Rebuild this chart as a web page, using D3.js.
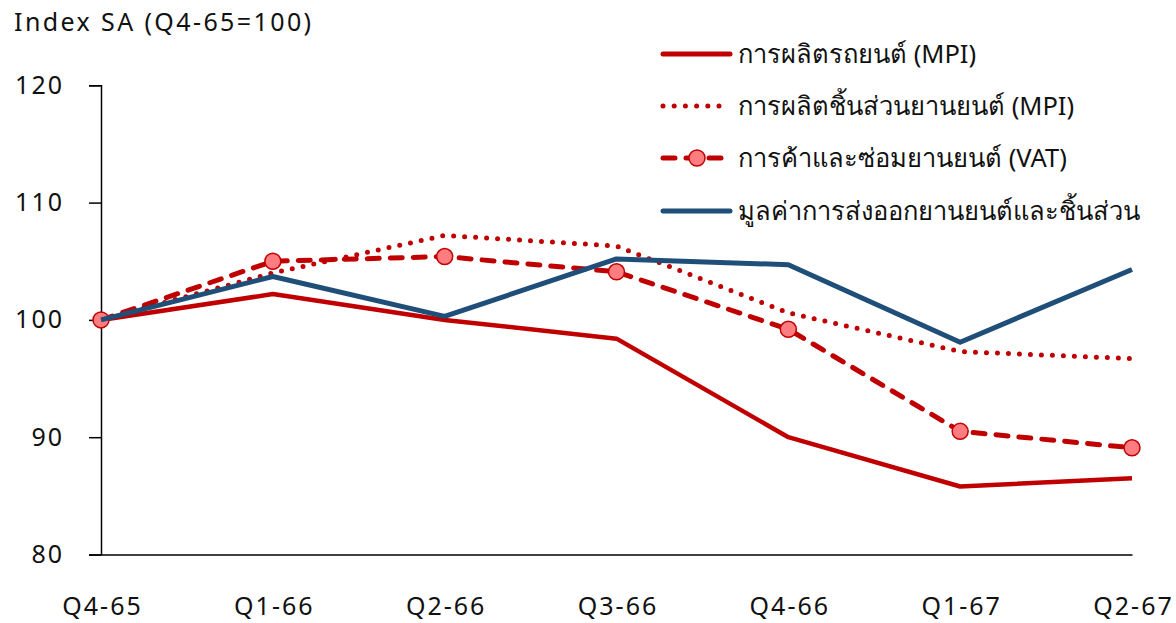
<!DOCTYPE html>
<html>
<head>
<meta charset="utf-8">
<script src="https://cdn.jsdelivr.net/npm/d3@7"></script>
<style>
  html, body { margin: 0; padding: 0; background: #ffffff; }
  svg { display: block; font-family: "Noto Sans", "Open Sans", sans-serif; }
</style>
</head>
<body>
<svg id="chart" width="1176" height="623"></svg>
<script>
// Quarterly index, seasonally adjusted (Q4-65 = 100)
const quarters = ["Q4-65", "Q1-66", "Q2-66", "Q3-66", "Q4-66", "Q1-67", "Q2-67"];
const carProduction   = [100, 102.2, 100.0, 98.4, 90.0, 85.8, 86.5];
const partsProduction = [100, 104.0, 107.2, 106.3, 100.6, 97.3, 96.7];
const tradeRepair     = [100, 105.0, 105.4, 104.1, 99.2, 90.5, 89.1];
const exportValue     = [100, 103.7, 100.3, 105.2, 104.7, 98.1, 104.3];
const yTicks = [80, 90, 100, 110, 120];

const seriesNames = [
  "การผลิตรถยนต์ (MPI)",
  "การผลิตชิ้นส่วนยานยนต์ (MPI)",
  "การค้าและซ่อมยานยนต์ (VAT)",
  "มูลค่าการส่งออกยานยนต์และชิ้นส่วน"
];

const RED = "#C00000";
const BLUE = "#1F4E79";
const PINK = "#FF7C80";

const svg = d3.select("#chart");
const plotLeft = 101, plotRight = 1132, plotTop = 85.3, plotBottom = 554.5;

const x = d3.scalePoint().domain(quarters).range([plotLeft, plotRight]);
const y = d3.scaleLinear().domain([80, 120]).range([plotBottom, plotTop]);

// Axis title
svg.append("text")
  .attr("x", 14).attr("y", 31)
  .attr("font-size", 25).attr("letter-spacing", 2.4).attr("fill", "#111")
  .text("Index SA (Q4-65=100)");

// Y axis
const yAxis = svg.append("g")
  .attr("transform", `translate(${plotLeft},0)`)
  .call(d3.axisLeft(y).tickValues(yTicks).tickSize(12).tickPadding(25).tickFormat(d3.format("d")));
yAxis.select(".domain").attr("stroke", "#000").attr("stroke-width", 1.5);
yAxis.selectAll(".tick line").attr("stroke", "#000").attr("stroke-width", 1.5);
yAxis.selectAll(".tick text")
  .attr("font-size", 25).attr("letter-spacing", 2).attr("fill", "#111")
  .attr("font-family", "Noto Sans, sans-serif");

// X axis
const xAxis = svg.append("g")
  .attr("transform", `translate(0,${plotBottom})`)
  .call(d3.axisBottom(x).tickSize(0).tickPadding(43));
xAxis.select(".domain").attr("stroke", "#000").attr("stroke-width", 1.5);
xAxis.selectAll(".tick text")
  .attr("font-size", 25).attr("letter-spacing", 2).attr("dx", 1).attr("fill", "#111")
  .attr("font-family", "Noto Sans, sans-serif");

const line = d3.line()
  .x((d, i) => x(quarters[i]))
  .y(d => y(d));

// Car production: solid red
svg.append("path").datum(carProduction)
  .attr("d", line).attr("fill", "none")
  .attr("stroke", RED).attr("stroke-width", 4.5)
  .attr("stroke-linejoin", "round");

// Parts production: red round dots
svg.append("path").datum(partsProduction)
  .attr("d", line).attr("fill", "none")
  .attr("stroke", RED).attr("stroke-width", 5)
  .attr("stroke-linecap", "round")
  .attr("stroke-dasharray", "0 11");

// Trade and repair: red dashes with circle markers
svg.append("path").datum(tradeRepair)
  .attr("d", line).attr("fill", "none")
  .attr("stroke", RED).attr("stroke-width", 5)
  .attr("stroke-linecap", "round")
  .attr("stroke-dasharray", "12 11");
svg.append("g").selectAll("circle").data(tradeRepair).join("circle")
  .attr("cx", (d, i) => x(quarters[i]))
  .attr("cy", d => y(d))
  .attr("r", 8)
  .attr("fill", PINK).attr("stroke", RED).attr("stroke-width", 1.5);

// Export value: solid blue
svg.append("path").datum(exportValue)
  .attr("d", line).attr("fill", "none")
  .attr("stroke", BLUE).attr("stroke-width", 5)
  .attr("stroke-linejoin", "round");

// Legend
const legendY = [54, 106, 158, 211];
const lg = svg.append("g");
const sx0 = 663, sx1 = 730, tx = 738;

lg.append("line").attr("x1", sx0).attr("x2", sx1).attr("y1", legendY[0]).attr("y2", legendY[0])
  .attr("stroke", RED).attr("stroke-width", 5).attr("stroke-linecap", "round");
lg.append("line").attr("x1", sx0).attr("x2", sx1).attr("y1", legendY[1]).attr("y2", legendY[1])
  .attr("stroke", RED).attr("stroke-width", 5).attr("stroke-linecap", "round")
  .attr("stroke-dasharray", "0 11.2");
lg.append("line").attr("x1", sx0).attr("x2", sx1).attr("y1", legendY[2]).attr("y2", legendY[2])
  .attr("stroke", RED).attr("stroke-width", 5).attr("stroke-linecap", "round")
  .attr("stroke-dasharray", "12 11");
lg.append("circle").attr("cx", (sx0 + sx1) / 2 + 0.5).attr("cy", legendY[2]).attr("r", 8)
  .attr("fill", PINK).attr("stroke", RED).attr("stroke-width", 1.5);
lg.append("line").attr("x1", sx0).attr("x2", sx1).attr("y1", legendY[3]).attr("y2", legendY[3])
  .attr("stroke", BLUE).attr("stroke-width", 5).attr("stroke-linecap", "round");

lg.selectAll("text").data(seriesNames).join("text")
  .attr("x", tx).attr("y", (d, i) => legendY[i])
  .attr("dy", "0.35em")
  .attr("font-size", 25.5).attr("fill", "#111")
  .text(d => d);
</script>
</body>
</html>
